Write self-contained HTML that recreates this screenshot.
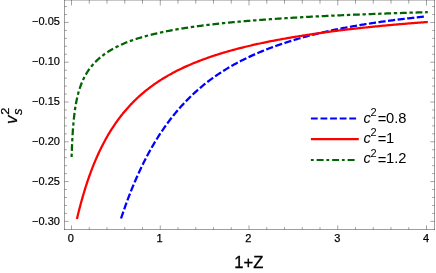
<!DOCTYPE html>
<html><head><meta charset="utf-8"><title>plot</title>
<style>
html,body{margin:0;padding:0;background:#fff;}
body{width:436px;height:273px;overflow:hidden;}
svg{display:block;will-change:transform;font-family:"Liberation Sans",sans-serif;fill:#000;}
</style></head><body>
<svg width="436" height="273" viewBox="0 0 436 273">
<rect x="0" y="0" width="436" height="273" fill="#fff"/>
<path d="M71.50 229.5 v-4.2 M71.50 0 v5.5 M89.25 229.5 v-2.4 M89.25 0 v3.7 M107.00 229.5 v-2.4 M107.00 0 v3.7 M124.75 229.5 v-2.4 M124.75 0 v3.7 M142.50 229.5 v-2.4 M142.50 0 v3.7 M160.25 229.5 v-4.2 M160.25 0 v5.5 M178.00 229.5 v-2.4 M178.00 0 v3.7 M195.75 229.5 v-2.4 M195.75 0 v3.7 M213.50 229.5 v-2.4 M213.50 0 v3.7 M231.25 229.5 v-2.4 M231.25 0 v3.7 M249.00 229.5 v-4.2 M249.00 0 v5.5 M266.75 229.5 v-2.4 M266.75 0 v3.7 M284.50 229.5 v-2.4 M284.50 0 v3.7 M302.25 229.5 v-2.4 M302.25 0 v3.7 M320.00 229.5 v-2.4 M320.00 0 v3.7 M337.75 229.5 v-4.2 M337.75 0 v5.5 M355.50 229.5 v-2.4 M355.50 0 v3.7 M373.25 229.5 v-2.4 M373.25 0 v3.7 M391.00 229.5 v-2.4 M391.00 0 v3.7 M408.75 229.5 v-2.4 M408.75 0 v3.7 M426.50 229.5 v-4.2 M426.50 0 v5.5 M64.5 6.54 h2.4 M434.5 6.54 h-2.4 M64.5 14.49 h2.4 M434.5 14.49 h-2.4 M64.5 22.45 h4.2 M434.5 22.45 h-4.2 M64.5 30.41 h2.4 M434.5 30.41 h-2.4 M64.5 38.36 h2.4 M434.5 38.36 h-2.4 M64.5 46.32 h2.4 M434.5 46.32 h-2.4 M64.5 54.27 h2.4 M434.5 54.27 h-2.4 M64.5 62.23 h4.2 M434.5 62.23 h-4.2 M64.5 70.19 h2.4 M434.5 70.19 h-2.4 M64.5 78.14 h2.4 M434.5 78.14 h-2.4 M64.5 86.10 h2.4 M434.5 86.10 h-2.4 M64.5 94.05 h2.4 M434.5 94.05 h-2.4 M64.5 102.01 h4.2 M434.5 102.01 h-4.2 M64.5 109.97 h2.4 M434.5 109.97 h-2.4 M64.5 117.92 h2.4 M434.5 117.92 h-2.4 M64.5 125.88 h2.4 M434.5 125.88 h-2.4 M64.5 133.83 h2.4 M434.5 133.83 h-2.4 M64.5 141.79 h4.2 M434.5 141.79 h-4.2 M64.5 149.75 h2.4 M434.5 149.75 h-2.4 M64.5 157.70 h2.4 M434.5 157.70 h-2.4 M64.5 165.66 h2.4 M434.5 165.66 h-2.4 M64.5 173.61 h2.4 M434.5 173.61 h-2.4 M64.5 181.57 h4.2 M434.5 181.57 h-4.2 M64.5 189.53 h2.4 M434.5 189.53 h-2.4 M64.5 197.48 h2.4 M434.5 197.48 h-2.4 M64.5 205.44 h2.4 M434.5 205.44 h-2.4 M64.5 213.39 h2.4 M434.5 213.39 h-2.4 M64.5 221.35 h4.2 M434.5 221.35 h-4.2" stroke="#000" stroke-opacity="0.4" stroke-width="0.9" fill="none"/>
<rect x="64.0" y="0" width="371.0" height="1" fill="#000" fill-opacity="0.22"/>
<path d="M64.5 0 V230.0" fill="none" stroke="#000" stroke-opacity="0.38" stroke-width="1"/>
<path d="M64.0 229.5 H435.0" fill="none" stroke="#000" stroke-opacity="0.38" stroke-width="1"/>
<path d="M434.5 0 V230.0" fill="none" stroke="#000" stroke-opacity="0.38" stroke-width="1"/>
<path d="M121.05 218.50 L121.49 217.18 L121.92 215.88 L122.35 214.59 L122.79 213.31 L123.22 212.05 L123.66 210.79 L124.09 209.54 L124.53 208.30 L124.96 207.08 L125.40 205.86 L125.83 204.65 L126.27 203.46 L126.70 202.27 L127.13 201.09 L127.57 199.93 L128.00 198.77 L128.44 197.62 L128.87 196.48 L129.31 195.35 L129.74 194.23 L130.18 193.12 L130.61 192.01 L131.04 190.92 L131.48 189.84 L131.91 188.76 L132.35 187.69 L132.78 186.63 L133.22 185.58 L133.65 184.54 L134.09 183.50 L134.52 182.47 L134.96 181.46 L135.39 180.45 L135.82 179.44 L136.26 178.45 L136.69 177.46 L137.13 176.48 L137.56 175.51 L138.00 174.54 L138.43 173.59 L138.87 172.64 L139.30 171.69 L139.74 170.76 L140.17 169.83 L140.60 168.91 L141.04 168.00 L141.47 167.09 L142.12 165.74 L142.78 164.41 L143.43 163.09 L144.08 161.79 L144.73 160.50 L145.38 159.22 L146.04 157.96 L146.69 156.72 L147.34 155.48 L147.99 154.27 L148.64 153.06 L149.29 151.87 L149.95 150.69 L150.60 149.52 L151.25 148.37 L151.90 147.22 L152.55 146.09 L153.20 144.98 L153.86 143.87 L154.51 142.78 L155.16 141.69 L155.81 140.62 L156.46 139.56 L157.12 138.51 L157.77 137.48 L158.42 136.45 L159.07 135.43 L159.72 134.43 L160.37 133.43 L161.03 132.45 L161.68 131.47 L162.33 130.51 L162.98 129.55 L163.63 128.61 L164.28 127.67 L164.94 126.74 L165.59 125.83 L166.24 124.92 L166.89 124.02 L167.54 123.13 L168.19 122.25 L168.85 121.37 L169.50 120.51 L170.15 119.65 L170.80 118.81 L171.45 117.97 L172.11 117.14 L172.76 116.32 L173.41 115.50 L174.06 114.69 L174.71 113.90 L175.36 113.10 L176.02 112.32 L176.67 111.54 L177.32 110.78 L177.97 110.01 L178.84 109.01 L179.71 108.02 L180.58 107.04 L181.45 106.07 L182.32 105.12 L183.19 104.17 L184.05 103.24 L184.92 102.32 L185.79 101.41 L186.66 100.52 L187.53 99.63 L188.40 98.75 L189.27 97.89 L190.14 97.03 L191.01 96.19 L191.88 95.35 L192.74 94.53 L193.61 93.71 L194.48 92.91 L195.35 92.11 L196.22 91.33 L197.09 90.55 L197.96 89.78 L198.83 89.02 L199.70 88.27 L200.57 87.53 L201.43 86.80 L202.30 86.08 L203.17 85.37 L204.04 84.67 L204.91 83.97 L205.78 83.28 L206.65 82.60 L207.52 81.93 L208.39 81.27 L209.26 80.61 L210.12 79.96 L210.99 79.32 L211.86 78.68 L212.73 78.05 L213.60 77.43 L214.47 76.82 L215.34 76.21 L216.21 75.61 L217.08 75.01 L217.95 74.42 L218.81 73.84 L219.68 73.27 L220.55 72.70 L221.42 72.13 L222.29 71.57 L223.16 71.02 L224.03 70.48 L224.90 69.94 L225.77 69.40 L226.64 68.87 L227.50 68.35 L228.37 67.83 L229.24 67.32 L230.11 66.81 L230.98 66.31 L231.85 65.82 L232.94 65.20 L234.02 64.60 L235.11 64.00 L236.19 63.41 L237.28 62.83 L238.37 62.25 L239.45 61.68 L240.54 61.12 L241.63 60.57 L242.71 60.02 L243.80 59.48 L244.88 58.95 L245.97 58.42 L247.06 57.90 L248.14 57.38 L249.23 56.88 L250.32 56.37 L251.40 55.87 L252.49 55.37 L253.57 54.88 L254.66 54.39 L255.75 53.91 L256.83 53.44 L257.92 52.97 L259.01 52.50 L260.09 52.04 L261.18 51.59 L262.26 51.14 L263.35 50.70 L264.44 50.26 L265.52 49.83 L266.61 49.40 L267.70 48.98 L268.78 48.56 L269.87 48.15 L270.95 47.74 L272.04 47.33 L273.13 46.93 L274.21 46.54 L275.30 46.14 L276.39 45.76 L277.47 45.38 L278.56 45.00 L279.65 44.62 L280.73 44.25 L281.82 43.89 L282.90 43.52 L283.99 43.16 L285.08 42.81 L286.16 42.46 L287.25 42.11 L288.34 41.77 L289.42 41.43 L290.51 41.09 L291.59 40.75 L292.68 40.41 L293.77 40.08 L294.85 39.75 L295.94 39.42 L297.03 39.10 L298.11 38.78 L299.20 38.46 L300.28 38.15 L301.37 37.84 L302.46 37.53 L303.54 37.22 L304.63 36.92 L305.72 36.62 L306.80 36.33 L307.89 36.03 L308.97 35.74 L310.06 35.46 L311.15 35.17 L312.23 34.89 L313.32 34.61 L314.41 34.34 L315.49 34.07 L316.58 33.80 L317.66 33.54 L318.75 33.28 L319.84 33.03 L320.92 32.77 L322.01 32.52 L323.10 32.27 L324.18 32.03 L325.27 31.78 L326.35 31.54 L327.44 31.30 L328.53 31.07 L329.61 30.83 L330.70 30.60 L331.79 30.37 L332.87 30.14 L333.96 29.91 L335.04 29.69 L336.13 29.47 L337.22 29.25 L338.30 29.03 L339.39 28.81 L340.48 28.60 L341.56 28.39 L342.65 28.18 L343.73 27.97 L344.82 27.76 L345.91 27.56 L346.99 27.36 L348.08 27.15 L349.17 26.96 L350.25 26.76 L351.34 26.56 L352.42 26.37 L353.51 26.18 L354.60 25.99 L355.68 25.80 L356.77 25.61 L357.86 25.42 L358.94 25.24 L360.03 25.06 L361.11 24.88 L362.20 24.70 L363.29 24.52 L364.37 24.35 L365.46 24.17 L366.55 24.00 L367.63 23.83 L368.72 23.66 L369.80 23.49 L370.89 23.32 L371.98 23.16 L373.06 23.00 L374.15 22.83 L375.24 22.67 L376.32 22.51 L377.41 22.35 L378.49 22.20 L379.58 22.04 L380.67 21.89 L381.75 21.73 L382.84 21.58 L383.93 21.43 L385.01 21.28 L386.10 21.13 L387.18 20.98 L388.27 20.84 L389.36 20.69 L390.44 20.55 L391.53 20.41 L392.62 20.27 L393.70 20.13 L394.79 19.99 L395.87 19.85 L396.96 19.71 L398.05 19.58 L399.13 19.44 L400.22 19.31 L401.31 19.17 L402.39 19.04 L403.48 18.91 L404.56 18.78 L405.65 18.65 L406.74 18.53 L407.82 18.40 L408.91 18.28 L410.00 18.15 L411.08 18.03 L412.17 17.90 L413.25 17.78 L414.34 17.66 L415.43 17.54 L416.51 17.42 L417.60 17.31 L418.69 17.19 L419.77 17.07 L420.86 16.96 L421.94 16.84 L423.03 16.73 L423.90 16.64" stroke="#0000ff" stroke-width="2.25" fill="none" stroke-dasharray="7.2 2.444"/>
<path d="M76.94 218.99 L77.17 218.00 L77.40 217.02 L77.64 216.02 L77.88 215.03 L78.12 214.05 L78.36 213.08 L78.61 212.08 L78.85 211.10 L79.10 210.13 L79.35 209.13 L79.61 208.15 L79.86 207.18 L80.12 206.19 L80.38 205.20 L80.64 204.23 L80.91 203.24 L81.17 202.26 L81.44 201.29 L81.71 200.30 L81.99 199.33 L82.26 198.36 L82.54 197.38 L82.82 196.40 L83.10 195.44 L83.38 194.46 L83.67 193.49 L83.96 192.53 L84.25 191.56 L84.54 190.60 L84.84 189.62 L85.14 188.66 L85.44 187.70 L85.75 186.73 L86.06 185.77 L86.37 184.80 L86.68 183.84 L87.00 182.89 L87.31 181.93 L87.63 180.98 L87.96 180.01 L88.29 179.06 L88.62 178.10 L88.95 177.15 L89.29 176.20 L89.63 175.25 L89.97 174.31 L90.31 173.36 L90.66 172.42 L91.01 171.47 L91.37 170.53 L91.72 169.58 L92.08 168.64 L92.45 167.70 L92.82 166.76 L93.19 165.82 L93.56 164.89 L93.94 163.95 L94.32 163.02 L94.71 162.09 L95.10 161.17 L95.49 160.24 L95.88 159.32 L96.28 158.39 L96.69 157.46 L97.09 156.54 L97.51 155.61 L97.92 154.70 L98.46 153.52 L98.90 152.57 L99.34 151.63 L99.78 150.71 L100.22 149.79 L100.66 148.89 L101.32 147.55 L101.98 146.23 L102.64 144.93 L103.30 143.66 L103.96 142.41 L104.62 141.18 L105.28 139.96 L105.93 138.77 L106.59 137.60 L107.25 136.44 L107.91 135.30 L108.57 134.18 L109.23 133.08 L109.89 132.00 L110.55 130.93 L111.21 129.87 L111.87 128.84 L112.53 127.82 L113.19 126.81 L113.85 125.82 L114.51 124.84 L115.17 123.88 L115.83 122.93 L116.49 121.99 L117.15 121.07 L117.81 120.16 L118.47 119.26 L119.13 118.38 L119.79 117.51 L120.45 116.65 L121.10 115.80 L121.76 114.96 L122.42 114.13 L123.08 113.32 L123.74 112.51 L124.40 111.72 L125.06 110.94 L125.72 110.16 L126.38 109.40 L127.04 108.65 L127.92 107.66 L128.80 106.68 L129.68 105.73 L130.56 104.79 L131.44 103.86 L132.32 102.95 L133.20 102.05 L134.08 101.17 L134.96 100.31 L135.83 99.45 L136.71 98.61 L137.59 97.78 L138.47 96.97 L139.35 96.17 L140.23 95.38 L141.11 94.61 L141.99 93.85 L142.87 93.10 L143.75 92.36 L144.63 91.63 L145.51 90.92 L146.39 90.21 L147.27 89.51 L148.15 88.83 L149.03 88.15 L149.91 87.49 L150.78 86.83 L151.66 86.18 L152.54 85.54 L153.42 84.91 L154.30 84.29 L155.18 83.68 L156.06 83.07 L156.94 82.48 L157.82 81.89 L158.70 81.31 L159.58 80.73 L160.46 80.17 L161.34 79.61 L162.22 79.06 L163.10 78.51 L163.98 77.98 L164.86 77.45 L165.73 76.92 L166.61 76.41 L167.49 75.90 L168.37 75.39 L169.25 74.89 L170.13 74.40 L171.01 73.92 L171.89 73.44 L172.99 72.84 L174.09 72.26 L175.19 71.69 L176.29 71.12 L177.39 70.56 L178.49 70.01 L179.59 69.47 L180.68 68.94 L181.78 68.41 L182.88 67.89 L183.98 67.38 L185.08 66.88 L186.18 66.38 L187.28 65.89 L188.38 65.41 L189.48 64.93 L190.58 64.46 L191.68 64.00 L192.78 63.54 L193.88 63.08 L194.98 62.64 L196.07 62.20 L197.17 61.76 L198.27 61.34 L199.37 60.91 L200.47 60.49 L201.57 60.07 L202.67 59.66 L203.77 59.25 L204.87 58.85 L205.97 58.45 L207.07 58.05 L208.17 57.67 L209.27 57.28 L210.37 56.90 L211.46 56.53 L212.56 56.16 L213.66 55.79 L214.76 55.43 L215.86 55.07 L216.96 54.72 L218.06 54.37 L219.16 54.02 L220.26 53.68 L221.36 53.34 L222.46 53.01 L223.56 52.68 L224.66 52.35 L225.75 52.03 L226.85 51.71 L227.95 51.39 L229.05 51.08 L230.15 50.77 L231.25 50.46 L232.35 50.16 L233.45 49.86 L234.55 49.57 L235.65 49.27 L236.75 48.98 L237.85 48.70 L238.95 48.41 L240.05 48.13 L241.14 47.85 L242.24 47.58 L243.34 47.30 L244.44 47.03 L245.54 46.77 L246.64 46.50 L247.74 46.24 L248.84 45.98 L249.94 45.73 L251.04 45.47 L252.14 45.21 L253.24 44.96 L254.34 44.71 L255.44 44.46 L256.53 44.22 L257.63 43.97 L258.73 43.73 L259.83 43.49 L260.93 43.26 L262.03 43.02 L263.13 42.79 L264.23 42.56 L265.33 42.33 L266.43 42.10 L267.53 41.88 L268.63 41.66 L269.73 41.44 L270.82 41.22 L271.92 41.00 L273.02 40.79 L274.12 40.58 L275.22 40.37 L276.32 40.16 L277.42 39.95 L278.52 39.75 L279.62 39.54 L280.72 39.34 L281.82 39.14 L282.92 38.94 L284.02 38.75 L285.12 38.55 L286.21 38.36 L287.31 38.17 L288.41 37.98 L289.51 37.79 L290.61 37.60 L291.71 37.42 L292.81 37.23 L293.91 37.05 L295.01 36.87 L296.11 36.69 L297.21 36.51 L298.31 36.34 L299.41 36.16 L300.50 35.99 L301.60 35.82 L302.70 35.64 L303.80 35.48 L304.90 35.31 L306.00 35.14 L307.10 34.97 L308.20 34.81 L309.30 34.65 L310.40 34.48 L311.50 34.32 L312.60 34.15 L313.70 33.98 L314.80 33.82 L315.89 33.66 L316.99 33.50 L318.09 33.34 L319.19 33.18 L320.29 33.02 L321.39 32.87 L322.49 32.71 L323.59 32.56 L324.69 32.40 L325.79 32.25 L326.89 32.10 L327.99 31.95 L329.09 31.80 L330.19 31.65 L331.28 31.50 L332.38 31.36 L333.48 31.21 L334.58 31.07 L335.68 30.93 L336.78 30.78 L337.88 30.64 L338.98 30.50 L340.08 30.36 L341.18 30.23 L342.28 30.10 L343.38 29.96 L344.48 29.83 L345.57 29.70 L346.67 29.57 L347.77 29.45 L348.87 29.32 L349.97 29.19 L351.07 29.07 L352.17 28.94 L353.27 28.82 L354.37 28.69 L355.47 28.57 L356.57 28.45 L357.67 28.33 L358.77 28.21 L359.87 28.09 L360.96 27.97 L362.06 27.85 L363.16 27.73 L364.26 27.62 L365.36 27.50 L366.46 27.39 L367.56 27.27 L368.66 27.16 L369.76 27.05 L370.86 26.93 L371.96 26.82 L373.06 26.71 L374.16 26.60 L375.26 26.49 L376.35 26.38 L377.45 26.28 L378.55 26.17 L379.65 26.06 L380.75 25.96 L381.85 25.85 L382.95 25.74 L384.05 25.64 L385.15 25.54 L386.25 25.43 L387.35 25.33 L388.45 25.23 L389.55 25.13 L390.64 25.03 L391.74 24.93 L392.84 24.83 L393.94 24.73 L395.04 24.63 L396.14 24.53 L397.24 24.44 L398.34 24.34 L399.44 24.24 L400.54 24.15 L401.64 24.05 L402.74 23.96 L403.84 23.86 L404.94 23.77 L406.03 23.68 L407.13 23.59 L408.23 23.49 L409.33 23.40 L410.43 23.31 L411.53 23.22 L412.63 23.13 L413.73 23.04 L414.83 22.95 L415.93 22.86 L417.03 22.78 L418.13 22.69 L419.23 22.60 L420.32 22.51 L421.42 22.43 L422.52 22.34 L423.62 22.26 L424.72 22.17 L425.82 22.09 L426.92 22.01 L427.80 21.94" stroke="#ff0000" stroke-width="2.25" fill="none"/>
<path d="M71.60 156.99 L71.63 155.96 L71.67 154.76 L71.71 153.61 L71.75 152.48 L71.79 151.40 L71.83 150.34 L71.87 149.31 L71.92 148.15 L71.97 147.03 L72.01 145.94 L72.06 144.88 L72.11 143.86 L72.16 142.72 L72.21 141.63 L72.27 140.56 L72.32 139.53 L72.38 138.41 L72.44 137.33 L72.50 136.28 L72.56 135.26 L72.63 134.17 L72.69 133.12 L72.76 132.10 L72.83 131.01 L72.91 129.96 L72.98 128.95 L73.06 127.88 L73.14 126.84 L73.22 125.84 L73.31 124.80 L73.39 123.79 L73.49 122.74 L73.58 121.72 L73.68 120.68 L73.78 119.66 L73.88 118.62 L73.99 117.62 L74.10 116.59 L74.22 115.54 L74.34 114.53 L74.47 113.50 L74.60 112.51 L74.73 111.50 L74.87 110.48 L75.02 109.45 L75.16 108.46 L75.32 107.47 L75.48 106.46 L75.64 105.46 L75.82 104.45 L76.00 103.44 L76.18 102.44 L76.38 101.44 L76.58 100.44 L76.78 99.45 L77.00 98.47 L77.22 97.49 L77.45 96.50 L77.69 95.51 L77.94 94.53 L78.20 93.54 L78.46 92.57 L78.73 91.61 L79.02 90.63 L79.31 89.68 L79.62 88.71 L79.94 87.75 L80.27 86.80 L80.61 85.85 L80.96 84.90 L81.32 83.96 L81.69 83.03 L82.08 82.10 L82.48 81.17 L82.89 80.25 L83.32 79.33 L83.76 78.42 L84.21 77.52 L84.68 76.62 L85.16 75.73 L85.65 74.85 L86.16 73.97 L86.68 73.11 L87.21 72.25 L87.75 71.40 L88.31 70.56 L88.89 69.73 L89.47 68.91 L90.07 68.10 L90.69 67.30 L91.31 66.51 L91.95 65.73 L92.60 64.96 L93.26 64.21 L93.93 63.46 L94.62 62.73 L95.32 62.00 L96.02 61.29 L96.74 60.58 L97.47 59.89 L98.21 59.21 L99.12 58.40 L100.00 57.65 L100.88 56.92 L101.76 56.21 L102.64 55.52 L103.52 54.86 L104.40 54.22 L105.28 53.59 L106.15 52.98 L107.03 52.39 L107.91 51.82 L108.79 51.26 L109.67 50.71 L110.55 50.18 L111.43 49.67 L112.31 49.16 L113.19 48.67 L114.07 48.19 L115.17 47.61 L116.27 47.04 L117.37 46.49 L118.47 45.95 L119.57 45.43 L120.67 44.93 L121.76 44.43 L122.86 43.95 L123.96 43.48 L125.06 43.03 L126.16 42.58 L127.26 42.14 L128.36 41.72 L129.46 41.30 L130.56 40.90 L131.66 40.50 L132.76 40.11 L133.86 39.73 L134.96 39.36 L136.05 39.00 L137.15 38.65 L138.25 38.30 L139.35 37.96 L140.45 37.62 L141.55 37.30 L142.65 36.97 L143.75 36.66 L144.85 36.35 L145.95 36.05 L147.05 35.75 L148.15 35.46 L149.25 35.17 L150.35 34.89 L151.44 34.62 L152.54 34.35 L153.64 34.08 L154.74 33.82 L155.84 33.56 L156.94 33.31 L158.04 33.06 L159.14 32.82 L160.24 32.57 L161.34 32.34 L162.44 32.11 L163.54 31.88 L164.64 31.65 L165.73 31.43 L166.83 31.21 L167.93 31.00 L169.03 30.78 L170.13 30.58 L171.23 30.37 L172.33 30.17 L173.43 29.97 L174.53 29.77 L175.63 29.58 L176.73 29.39 L177.83 29.20 L178.93 29.01 L180.03 28.83 L181.12 28.65 L182.22 28.47 L183.32 28.29 L184.42 28.12 L185.52 27.95 L186.62 27.78 L187.72 27.61 L188.82 27.45 L189.92 27.29 L191.02 27.13 L192.12 26.97 L193.22 26.81 L194.32 26.66 L195.42 26.51 L196.51 26.36 L197.61 26.21 L198.71 26.06 L199.81 25.91 L200.91 25.77 L202.01 25.63 L203.11 25.49 L204.21 25.35 L205.31 25.21 L206.41 25.08 L207.51 24.95 L208.61 24.81 L209.71 24.68 L210.80 24.55 L211.90 24.43 L213.00 24.30 L214.10 24.17 L215.20 24.05 L216.30 23.93 L217.40 23.81 L218.50 23.69 L219.60 23.57 L220.70 23.45 L221.80 23.34 L222.90 23.22 L224.00 23.11 L225.10 23.00 L226.19 22.89 L227.29 22.78 L228.39 22.67 L229.49 22.56 L230.59 22.45 L231.69 22.35 L232.79 22.24 L233.89 22.14 L234.99 22.04 L236.09 21.93 L237.19 21.83 L238.29 21.73 L239.39 21.63 L240.49 21.54 L241.58 21.44 L242.68 21.34 L243.78 21.25 L244.88 21.15 L245.98 21.06 L247.08 20.97 L248.18 20.88 L249.28 20.79 L250.38 20.70 L251.48 20.61 L252.58 20.52 L253.68 20.43 L254.78 20.34 L255.87 20.26 L256.97 20.17 L258.07 20.09 L259.17 20.00 L260.27 19.92 L261.37 19.84 L262.47 19.76 L263.57 19.68 L264.67 19.60 L265.77 19.52 L266.87 19.44 L267.97 19.36 L269.07 19.28 L270.17 19.20 L271.26 19.13 L272.36 19.05 L273.46 18.98 L274.56 18.90 L275.66 18.83 L276.76 18.75 L277.86 18.68 L278.96 18.61 L280.06 18.54 L281.16 18.47 L282.26 18.40 L283.36 18.33 L284.46 18.26 L285.55 18.19 L286.65 18.12 L287.75 18.05 L288.85 17.98 L289.95 17.92 L291.05 17.85 L292.15 17.78 L293.25 17.72 L294.35 17.65 L295.45 17.59 L296.55 17.53 L297.65 17.46 L298.75 17.40 L299.85 17.34 L300.94 17.27 L302.04 17.21 L303.14 17.15 L304.24 17.09 L305.34 17.03 L306.44 16.97 L307.54 16.91 L308.64 16.85 L309.74 16.79 L310.84 16.73 L311.94 16.68 L313.04 16.62 L314.14 16.56 L315.24 16.50 L316.33 16.45 L317.43 16.39 L318.53 16.34 L319.63 16.28 L320.73 16.23 L321.83 16.17 L322.93 16.12 L324.03 16.06 L325.13 16.01 L326.23 15.96 L327.33 15.90 L328.43 15.85 L329.53 15.80 L330.62 15.75 L331.72 15.70 L332.82 15.65 L333.92 15.60 L335.02 15.55 L336.12 15.50 L337.22 15.45 L338.32 15.40 L339.42 15.35 L340.52 15.30 L341.62 15.25 L342.72 15.20 L343.82 15.15 L344.92 15.11 L346.01 15.06 L347.11 15.01 L348.21 14.96 L349.31 14.92 L350.41 14.87 L351.51 14.83 L352.61 14.78 L353.71 14.73 L354.81 14.69 L355.91 14.64 L357.01 14.60 L358.11 14.56 L359.21 14.51 L360.31 14.47 L361.40 14.42 L362.50 14.38 L363.60 14.34 L364.70 14.29 L365.80 14.25 L366.90 14.21 L368.00 14.17 L369.10 14.13 L370.20 14.08 L371.30 14.04 L372.40 14.00 L373.50 13.96 L374.60 13.92 L375.69 13.88 L376.79 13.84 L377.89 13.80 L378.99 13.76 L380.09 13.72 L381.19 13.68 L382.29 13.64 L383.39 13.60 L384.49 13.56 L385.59 13.53 L386.69 13.49 L387.79 13.45 L388.89 13.41 L389.99 13.37 L391.08 13.34 L392.18 13.30 L393.28 13.26 L394.38 13.22 L395.48 13.19 L396.58 13.15 L397.68 13.12 L398.78 13.08 L399.88 13.04 L400.98 13.01 L402.08 12.97 L403.18 12.94 L404.28 12.90 L405.37 12.87 L406.47 12.83 L407.57 12.80 L408.67 12.76 L409.77 12.73 L410.87 12.69 L411.97 12.66 L413.07 12.63 L414.17 12.59 L415.27 12.56 L416.37 12.52 L417.47 12.49 L418.57 12.46 L419.67 12.43 L420.76 12.39 L421.86 12.36 L422.96 12.33 L424.06 12.30 L425.16 12.26 L426.26 12.23 L427.36 12.20 L427.80 12.19" stroke="#006400" stroke-width="2.25" fill="none" stroke-dasharray="3.4 2.729 6.8 2.729"/>
<path d="M310.9 118.5 H356.2" stroke="#0000ff" stroke-width="2.1" stroke-dasharray="6.8 2.8"/>
<path d="M310.9 139.1 H358.8" stroke="#ff0000" stroke-width="2.1"/>
<path d="M310.9 160 H355" stroke="#006400" stroke-width="2.1" stroke-dasharray="2.8 2.9 7 2.8"/>
<text x="59.9" y="25" text-anchor="end" font-size="11" stroke="#000" stroke-width="0.2">−0.05</text>
<text x="59.9" y="65" text-anchor="end" font-size="11" stroke="#000" stroke-width="0.2">−0.10</text>
<text x="59.9" y="105" text-anchor="end" font-size="11" stroke="#000" stroke-width="0.2">−0.15</text>
<text x="59.9" y="145" text-anchor="end" font-size="11" stroke="#000" stroke-width="0.2">−0.20</text>
<text x="59.9" y="185" text-anchor="end" font-size="11" stroke="#000" stroke-width="0.2">−0.25</text>
<text x="59.9" y="225" text-anchor="end" font-size="11" stroke="#000" stroke-width="0.2">−0.30</text>
<text x="70.8" y="242.4" text-anchor="middle" font-size="11" stroke="#000" stroke-width="0.25">0</text>
<text x="159.6" y="242.4" text-anchor="middle" font-size="11" stroke="#000" stroke-width="0.25">1</text>
<text x="248.4" y="242.4" text-anchor="middle" font-size="11" stroke="#000" stroke-width="0.25">2</text>
<text x="337.2" y="242.4" text-anchor="middle" font-size="11" stroke="#000" stroke-width="0.25">3</text>
<text x="426.0" y="242.4" text-anchor="middle" font-size="11" stroke="#000" stroke-width="0.25">4</text>
<text x="248.9" y="268.2" text-anchor="middle" font-size="16.6" stroke="#000" stroke-width="0.3">1+Z</text>
<g transform="translate(17.0,124) rotate(-90)" stroke="#000" stroke-width="0.25"><text x="0" y="0" font-size="17" font-style="italic">v</text><text x="8.9" y="5.0" font-size="13" font-style="italic">s</text><text transform="translate(9.35,-8.2) scale(1.22,1)" x="0" y="0" font-size="10.5">2</text></g>
<text x="363.4" y="122.60" font-size="14.7" font-style="italic">c</text>
<text x="370.5" y="116.00" font-size="11">2</text>
<text x="377.7" y="123.80" font-size="14.7">=</text>
<text x="386.1" y="122.60" font-size="14.7">0.8</text>
<text x="363.4" y="142.97" font-size="14.7" font-style="italic">c</text>
<text x="370.5" y="136.37" font-size="11">2</text>
<text x="377.7" y="144.17" font-size="14.7">=</text>
<text x="386.1" y="142.97" font-size="14.7">1</text>
<text x="363.4" y="163.34" font-size="14.7" font-style="italic">c</text>
<text x="370.5" y="156.74" font-size="11">2</text>
<text x="377.7" y="164.54" font-size="14.7">=</text>
<text x="386.1" y="163.34" font-size="14.7">1.2</text>
</svg>
</body></html>
